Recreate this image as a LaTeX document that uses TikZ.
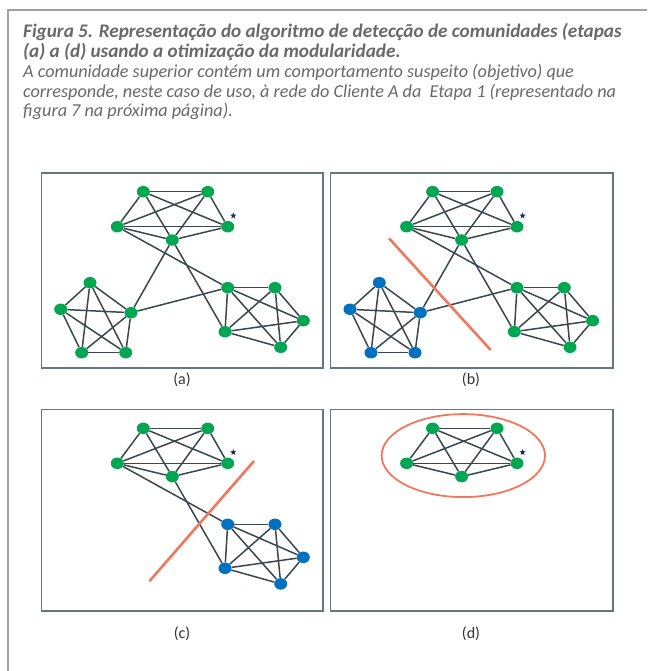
\documentclass[tikz,border=0pt]{standalone}
\usepackage{fontspec}
\setmainfont{Carlito}
\usetikzlibrary{shapes.geometric}
\definecolor{gnc}{RGB}{0,166,81}
\definecolor{blc}{RGB}{0,112,192}
\definecolor{edc}{RGB}{58,72,78}
\definecolor{boxc}{RGB}{100,118,126}
\definecolor{redc}{RGB}{240,120,95}
\definecolor{capc}{RGB}{105,105,108}
\definecolor{framec}{RGB}{160,160,160}
\definecolor{starc}{RGB}{30,40,110}
\pgfdeclarelayer{bg}
\pgfdeclarelayer{edges}
\pgfsetlayers{bg,edges,main}
\tikzset{
 gnode/.style={ellipse,fill=gnc,inner sep=0,minimum width=13pt,minimum height=11.5pt},
 bnode/.style={gnode,fill=blc},
 edge/.style={draw=edc,line width=1.5pt},
 panel/.style={draw=boxc,line width=1.6pt},
 cutline/.style={draw=redc,line width=2.6pt},
 starn/.style={star,star points=5,star point ratio=2.4,fill=starc,inner sep=0,minimum size=6.5pt},
 lbl/.style={font=\fontsize{16}{18}\selectfont,text=black!80},
 captxt/.style={anchor=base west,inner sep=0,text=capc,font=\fontsize{18.2}{21}\selectfont\itshape},
 captitle/.style={captxt,font=\fontsize{19.2}{22}\selectfont\bfseries\itshape},
}
\newcommand{\TopCl}{%
 \node[gnode] (t1) at (143.3,191.7) {};
 \node[gnode] (t2) at (207.7,191.7) {};
 \node[gnode] (t3) at (117.3,226.7) {};
 \node[gnode] (t4) at (227.7,226.7) {};
 \node[gnode] (t5) at (172.3,240) {};
 \node[starn] (st) at (233.3,215.7) {};
 \begin{pgfonlayer}{edges}
 \foreach \p/\q in {t1/t2,t1/t3,t1/t4,t1/t5,t2/t3,t2/t4,t2/t5,t3/t4,t3/t5,t4/t5}
  \draw[edge] (\p) -- (\q);
 \end{pgfonlayer}
}
\newcommand{\LeftCl}[1]{%
 \node[#1] (l1) at (90,282.7) {};
 \node[#1] (l2) at (60.7,309.3) {};
 \node[#1] (l3) at (131,312.7) {};
 \node[#1] (l4) at (81.7,352.7) {};
 \node[#1] (l5) at (125.7,352.7) {};
 \begin{pgfonlayer}{edges}
 \foreach \p/\q in {l1/l2,l1/l3,l1/l4,l1/l5,l2/l3,l2/l4,l2/l5,l3/l4,l3/l5,l4/l5}
  \draw[edge] (\p) -- (\q);
 \end{pgfonlayer}
}
\newcommand{\RightCl}[1]{%
 \node[#1] (r1) at (227.7,287.7) {};
 \node[#1] (r2) at (275,287.7) {};
 \node[#1] (r3) at (303.3,320.7) {};
 \node[#1] (r4) at (225,331.7) {};
 \node[#1] (r5) at (280.7,347.3) {};
 \begin{pgfonlayer}{edges}
 \foreach \p/\q in {r1/r2,r1/r3,r1/r4,r1/r5,r2/r3,r2/r4,r2/r5,r3/r4,r3/r5,r4/r5}
  \draw[edge] (\p) -- (\q);
 \end{pgfonlayer}
}
\newcommand{\Links}[1]{%
 \begin{pgfonlayer}{edges}
 \foreach \p/\q in {#1} \draw[edge] (\p) -- (\q);
 \end{pgfonlayer}
}
\begin{document}
\begin{tikzpicture}[x=1pt,y=-1pt]
\useasboundingbox (0,0) rectangle (647,671);
\begin{pgfonlayer}{bg}
\fill[white] (0,0) rectangle (647,671);
\end{pgfonlayer}
\draw[framec,line width=2pt] (8,671) -- (8,10) -- (647,10);
% caption
\node[captitle] (c1) at (23,38) {Figura 5. Representação do algoritmo de detecção de comunidades (etapas};
\node[captitle] (c2) at (23,57.5) {(a) a (d) usando a otimização da modularidade.};
\node[captxt] (c3) at (23,78) {A comunidade superior contém um comportamento suspeito (objetivo) que};
\node[captxt] (c4) at (23,97.5) {corresponde, neste caso de uso, à rede do Cliente A da~ Etapa 1 (representado na};
\node[captxt] (c5) at (23,117) {figura 7 na próxima página).};
% panel frames
\draw[panel] (41.5,173) rectangle (323,368);
\draw[panel] (330.5,173) rectangle (613,368);
\draw[panel] (41.5,409.6) rectangle (323,611);
\draw[panel] (330.5,409.6) rectangle (613,611);
\node[lbl] (la) at (182,380) {(a)};
\node[lbl] (lb) at (471,380) {(b)};
\node[lbl] (lc) at (182,634) {(c)};
\node[lbl] (ld) at (471,634) {(d)};
% (a)
\begin{scope}[name prefix=a-]
 \TopCl \LeftCl{gnode} \RightCl{gnode}
 \Links{t5/l3,t5/r4,t3/r1,l3/r1}
\end{scope}
% (b)
\begin{scope}[shift={(289.3,0)},name prefix=b-]
 \TopCl \LeftCl{bnode} \RightCl{gnode}
 \Links{t5/l3,t5/r4,t3/r1,l3/r1}
 \draw[cutline] (99.7,238.3) -- (201.4,350);
\end{scope}
% (c)
\begin{scope}[shift={(0,236.6)},name prefix=c-]
 \TopCl \RightCl{bnode}
 \Links{t5/r4,t3/r1}
 \draw[cutline] (149.5,344.5) -- (254,224.4);
\end{scope}
% (d)
\begin{scope}[shift={(289.3,236.6)},name prefix=d-]
 \TopCl
 \draw[redc,line width=1.8pt] (174,219) ellipse [x radius=81.7, y radius=41.5];
\end{scope}
\end{tikzpicture}
\end{document}
